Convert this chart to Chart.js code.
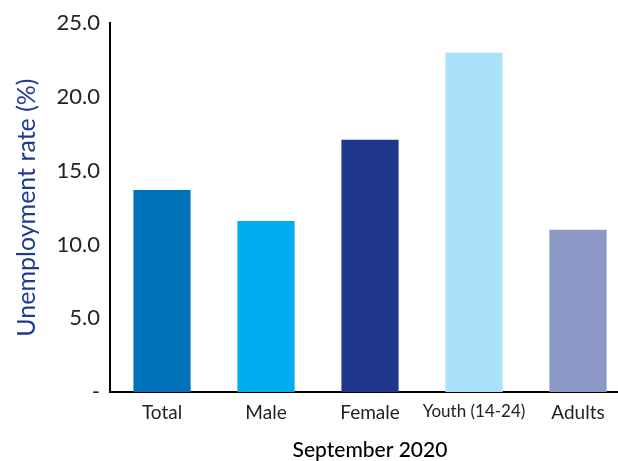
<!DOCTYPE html>
<html>
<head>
<meta charset="utf-8">
<script src="https://cdn.jsdelivr.net/npm/chart.js@4"></script>
<style>
  html, body { margin: 0; padding: 0; overflow: hidden; background: #fff; }
  #wrap { width: 630px; height: 461px; }
</style>
</head>
<body>
<div id="wrap"><canvas id="chartBar"></canvas></div>
<script>
const categories = ["Total", "Male", "Female", "Youth (14-24)", "Adults"];
const rates = [13.7, 11.6, 17.1, 23.0, 11.0];
const barColors = ["#0072BB", "#00AEEF", "#1F388C", "#ABE1FA", "#8C98C5"];
const yTicks = [0, 5, 10, 15, 20, 25];

const fontFamily = "Lato, 'Open Sans', sans-serif";

const chartBar = new Chart(document.getElementById("chartBar"), {
  type: "bar",
  data: {
    labels: categories,
    datasets: [{
      label: "Unemployment rate (%)",
      data: rates,
      backgroundColor: barColors,
      barPercentage: 0.55,
      categoryPercentage: 1.0,
    }],
  },
  options: {
    responsive: true,
    maintainAspectRatio: false,
    animation: false,
    layout: { padding: { top: 15, right: 0, left: 0, bottom: 0 } },
    plugins: {
      legend: { display: false },
      tooltip: { enabled: false },
    },
    scales: {
      x: {
        grid: { display: false, drawTicks: false },
        border: { color: "#000", width: 2 },
        ticks: {
          color: "#222",
          padding: 9,
          maxRotation: 0,
          autoSkip: false,
          font: ctx => ({ family: fontFamily, size: ctx.index === 3 ? 17 : 19 }),
        },
        title: {
          display: true,
          text: "September 2020",
          color: "#000",
          font: { family: fontFamily, size: 21, weight: "500" },
          padding: { top: 8, bottom: -2 },
        },
        afterFit: scale => { scale.height = 69; },
      },
      y: {
        min: 0,
        max: 25,
        afterBuildTicks: scale => { scale.ticks = yTicks.map(v => ({ value: v })); },
        grid: { display: false, drawTicks: false },
        border: { color: "#000", width: 2 },
        ticks: {
          color: "#222",
          padding: 10,
          font: { family: fontFamily, size: 22 },
          callback: v => v === 0 ? "-" : v.toFixed(1),
        },
        title: {
          display: true,
          text: "Unemployment rate (%)",
          color: "#1F3A93",
          font: { family: fontFamily, size: 25 },
          padding: { top: 12, bottom: 0 },
        },
        afterFit: scale => { scale.width = 110; },
      },
    },
  },
});
</script>
</body>
</html>
